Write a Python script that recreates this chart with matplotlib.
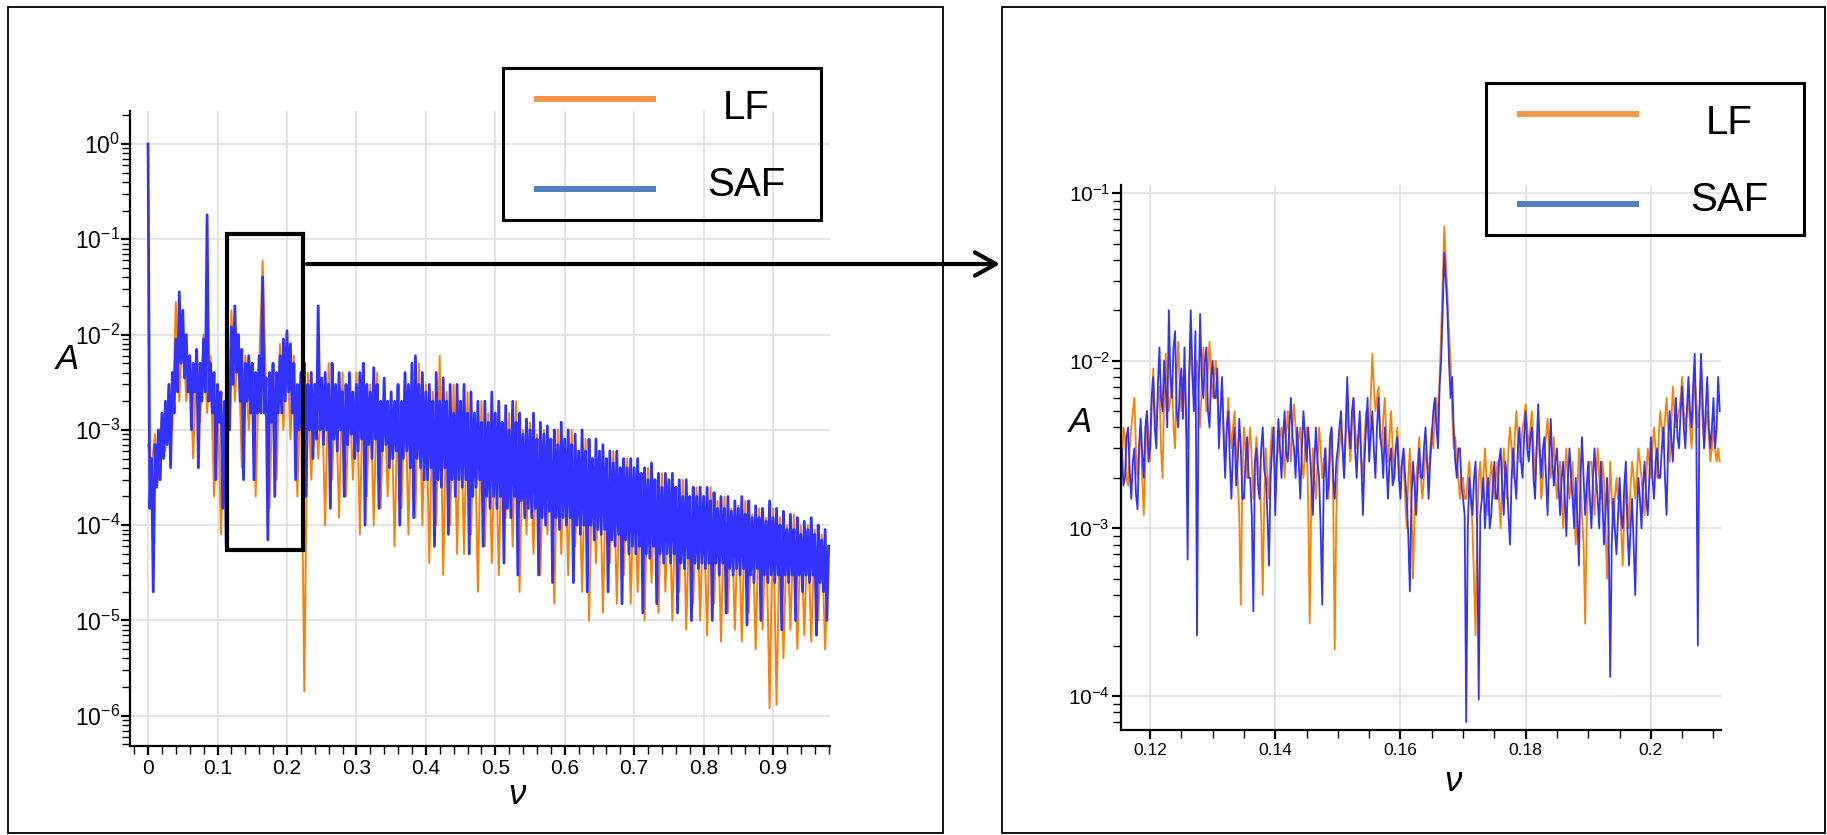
import numpy as np
import matplotlib
matplotlib.use('Agg')
import matplotlib.pyplot as plt
from matplotlib import font_manager
from matplotlib.patches import Rectangle, ArrowStyle
from matplotlib.lines import Line2D
from matplotlib.ticker import MultipleLocator, FuncFormatter, LogLocator, NullFormatter

# ---------------------------------------------------------------- data
# full spectrum, nu from 0 to 0.98
saf_full = [
    1.0, 1.5e-4, 5e-4, 2e-5, 7e-4, 2.5e-4, 1e-3, 3e-4, 1.5e-3, 5e-4, 2e-3, 7e-4, 3e-3, 4e-4, 4e-3, 1.5e-3, 9e-3, 2.5e-3, 2.8e-2, 5e-3,
    1.8e-2, 3.5e-3, 1e-2, 2.5e-3, 6e-3, 1e-3, 5e-3, 2.5e-3, 7e-3, 4e-4, 5e-3, 2e-3, 9e-3, 2.5e-3, 0.18, 2e-3, 5e-3, 1.5e-3, 4e-3, 3e-4,
    3e-3, 1.2e-3, 2.5e-3, 1.5e-4, 2e-3, 6e-5, 1.5e-3, 1e-3, 1.2e-2, 3e-3, 2e-2, 4e-3, 1e-2, 2e-3, 7e-3, 3e-4, 5e-3, 2e-3, 6e-3, 1.5e-3,
    5e-3, 3e-4, 4e-3, 1.5e-3, 6e-3, 1.5e-3, 4e-2, 1.5e-3, 3.5e-3, 7e-5, 4e-3, 1.2e-3, 5e-3, 2e-4, 4e-3, 1.5e-3, 6e-3, 1.5e-3, 9e-3, 2e-3,
    1.1e-2, 2.5e-3, 8e-3, 1.5e-3, 5e-3, 3e-4, 3e-3, 1e-3, 4e-3, 8e-4, 5e-3, 2e-4, 3e-3, 1e-3, 4e-3, 5e-4, 3e-3, 8e-4, 2e-2, 1e-3,
    3.5e-3, 7e-4, 4e-3, 1e-3, 3e-3, 1.5e-4, 5e-3, 8e-4, 3e-3, 6e-4, 4e-3, 1e-3, 2.5e-3, 2e-4, 3e-3, 7e-4, 4e-3, 9e-4, 2.5e-3, 5e-4,
    3e-3, 6e-4, 4e-3, 8e-4, 5e-3, 1e-4, 3e-3, 7e-4, 2.5e-3, 5e-4, 4.5e-3, 8e-4, 3e-3, 1.5e-4, 2e-3, 6e-4, 3.5e-3, 7e-4, 2e-3, 4e-4,
    2.5e-3, 5e-4, 2e-3, 6e-4, 3e-3, 1e-4, 2e-3, 5e-4, 4e-3, 6e-4, 3e-3, 4e-4, 5e-3, 1.2e-4, 6e-3, 5e-4, 3e-3, 4e-4, 4e-3, 3e-4,
    2.5e-3, 3e-4, 3e-3, 4e-4, 2e-3, 6e-5, 4e-3, 3e-4, 2e-3, 2.5e-4, 3.5e-3, 4e-4, 2e-3, 8e-5, 3e-3, 3e-4, 1.5e-3, 2e-4, 3e-3, 3e-4,
    2e-3, 2.5e-4, 3e-3, 3e-4, 1.5e-3, 5e-5, 2.5e-3, 2e-4, 1.5e-3, 2.5e-4, 2e-3, 3e-4, 1.2e-3, 6e-5, 2e-3, 2e-4, 1.2e-3, 1.5e-4, 2.5e-3, 2e-4,
    1.5e-3, 1.5e-4, 2e-3, 2e-4, 1.2e-3, 4e-5, 1.8e-3, 1.5e-4, 1e-3, 1.2e-4, 2e-3, 2e-4, 1.2e-3, 3e-5, 1.5e-3, 1.8e-4, 9e-4, 1.2e-4, 1.3e-3, 1.5e-4,
    1e-3, 1.2e-4, 1.5e-3, 1.5e-4, 8e-4, 3e-5, 1.2e-3, 1.2e-4, 9e-4, 1e-4, 1.1e-3, 1.4e-4, 8e-4, 2.5e-5, 1e-3, 1.2e-4, 7e-4, 9e-5, 1.2e-3, 1.2e-4,
    8e-4, 1e-4, 1e-3, 1.2e-4, 7e-4, 2.5e-5, 9e-4, 1e-4, 6e-4, 8e-5, 1e-3, 1e-4, 6e-4, 2e-5, 8e-4, 1e-4, 5e-4, 7e-5, 8e-4, 9e-5,
    6e-4, 8e-5, 7e-4, 9e-5, 5e-4, 2e-5, 6e-4, 7e-5, 4.5e-4, 6e-5, 6e-4, 8e-5, 4e-4, 1.5e-5, 5e-4, 7e-5, 4e-4, 5e-5, 5e-4, 6e-5,
    4e-4, 5e-5, 5e-4, 6e-5, 3.5e-4, 1.2e-5, 4e-4, 5e-5, 3e-4, 4.5e-5, 4.5e-4, 6e-5, 3e-4, 1.5e-5, 3.5e-4, 5e-5, 2.5e-4, 4e-5, 3.5e-4, 5e-5,
    3e-4, 4e-5, 3.5e-4, 5e-5, 2.5e-4, 1.2e-5, 3e-4, 4e-5, 2e-4, 3.5e-5, 3e-4, 4.5e-5, 2e-4, 1e-5, 2.5e-4, 4e-5, 2e-4, 3.5e-5, 2.5e-4, 4e-5,
    2e-4, 3.5e-5, 2.5e-4, 4e-5, 1.8e-4, 1e-5, 2.2e-4, 4e-5, 1.5e-4, 3e-5, 2e-4, 4e-5, 1.5e-4, 1.2e-5, 2e-4, 3.5e-5, 1.4e-4, 3e-5, 1.8e-4, 3.5e-5,
    1.5e-4, 3e-5, 2e-4, 3.5e-5, 1.3e-4, 9e-6, 1.8e-4, 3e-5, 1.2e-4, 2.5e-5, 1.6e-4, 3.5e-5, 1.2e-4, 1e-5, 1.5e-4, 3e-5, 1.1e-4, 2.5e-5, 1.8e-4, 3e-5,
    1.2e-4, 2.5e-5, 1.5e-4, 3e-5, 1e-4, 8e-6, 1.4e-4, 3e-5, 9e-5, 2.5e-5, 1.3e-4, 3e-5, 9e-5, 1e-5, 1.2e-4, 3e-5, 8e-5, 2e-5, 1.1e-4, 3e-5,
    9e-5, 2.5e-5, 1.2e-4, 3e-5, 8e-5, 7e-6, 1e-4, 2.5e-5, 7e-5, 2e-5, 9e-5, 1e-5, 6e-5,
]
lf_full = [
    7e-4, 4e-4, 9e-4, 3e-4, 1.5e-3, 6e-4, 3e-3, 1e-3, 2.2e-2, 2e-3,
    1.5e-2, 2e-3, 6e-3, 5e-4, 7e-3, 1.2e-3, 1e-2, 1.5e-3, 6e-3, 2e-4,
    3e-3, 8e-5, 1.5e-3, 6e-4, 1.8e-2, 2e-3, 1e-2, 4e-4, 6e-3, 1e-3,
    5e-3, 2e-4, 5e-3, 6e-2, 2.5e-3, 1.5e-4, 5e-3, 3e-4, 8e-3, 1e-3,
    1e-2, 8e-4, 6e-3, 2e-4, 4e-3, 1.8e-6, 4e-3, 3e-4, 3e-3, 5e-4,
    3e-3, 1e-4, 5e-3, 3e-4, 3e-3, 1.2e-4, 4e-3, 2e-4, 2.5e-3, 3e-4,
    4e-3, 8e-5, 5e-3, 2e-4, 3e-3, 1e-4, 4e-3, 1.5e-4, 3e-3, 2e-4,
    2.5e-3, 6e-5, 3e-3, 1.5e-4, 3.5e-3, 8e-5, 4e-3, 1.2e-4, 5e-3, 1e-4,
    3e-3, 4e-5, 2.5e-3, 1e-4, 6e-3, 3e-5, 2.5e-3, 1e-4, 3e-3, 5e-5,
    2e-3, 5e-5, 2.5e-3, 8e-5, 1.5e-3, 2e-5, 2e-3, 6e-5, 1.5e-3, 4e-5,
    1.5e-3, 3e-5, 1.2e-3, 1.2e-4, 1.5e-3, 6e-5, 2e-3, 2e-5, 1e-3, 8e-5,
    1.2e-3, 5e-5, 9e-4, 3e-5, 1e-3, 8e-5, 8e-4, 1.5e-5, 1e-3, 5e-5,
    8e-4, 3e-5, 1e-3, 6e-5, 6e-4, 2e-5, 8e-4, 1e-5, 5e-4, 4e-5,
    6e-4, 1.2e-5, 5e-4, 4e-5, 6e-4, 1.5e-5, 4e-4, 3e-5, 5e-4, 1.5e-5,
    4e-4, 2e-5, 3.5e-4, 1e-5, 4e-4, 2.5e-5, 3e-4, 1.2e-5, 3.5e-4, 2e-5,
    3e-4, 1e-5, 2.5e-4, 2e-5, 3e-4, 8e-6, 2e-4, 1.5e-5, 2.5e-4, 1e-5,
    2e-4, 7e-6, 2.5e-4, 1.5e-5, 1.8e-4, 6e-6, 2e-4, 1.2e-5, 1.5e-4, 8e-6,
    1.6e-4, 6e-6, 1.8e-4, 1.2e-5, 1.3e-4, 5e-6, 1.5e-4, 8e-6, 1.2e-4, 1.2e-6,
    1.5e-4, 1.3e-6, 1.2e-4, 4e-6, 1e-4, 8e-6, 1.3e-4, 5e-6, 1e-4, 7e-6,
    1e-4, 6e-6, 9e-5, 1e-5, 8e-5, 5e-6, 6e-5,
]
nu_full_range = (0.0, 0.98)

# zoom window, nu from 0.1155 to 0.211
saf_zoom = [
    3e-3, 1.8e-3, 2e-3, 3.5e-3, 4e-3, 2.2e-3, 1.5e-3, 2.5e-3, 3e-3, 1.6e-3, 1.3e-3, 3e-3, 4.5e-3, 2.8e-3, 2e-3, 4e-3, 5e-3, 2.5e-3, 3e-3, 6e-3,
    8e-3, 4e-3, 3e-3, 7e-3, 1.2e-2, 6e-3, 5e-3, 1e-2, 7e-3, 4e-3, 2e-2, 8e-3, 6e-3, 1.2e-2, 1.5e-2, 5e-3, 4e-3, 7e-3, 9e-3, 4.5e-3,
    1.2e-2, 5e-3, 6.5e-4, 8e-3, 2e-2, 9e-3, 5e-3, 1.5e-2, 2.3e-4, 6e-3, 1.9e-2, 8e-3, 6e-3, 1e-2, 1.2e-2, 5e-3, 4e-3, 8e-3, 1e-2, 6e-3,
    6e-3, 9e-3, 3e-3, 5e-3, 8e-3, 3.5e-3, 2e-3, 4e-3, 5e-3, 2.5e-3, 1.5e-3, 3e-3, 4e-3, 1.8e-3, 2.5e-3, 4.5e-3, 3e-3, 1.5e-3, 1.5e-3, 2.5e-3,
    3.5e-3, 2e-3, 2e-3, 1.2e-3, 3.2e-4, 2.5e-3, 3e-3, 1.8e-3, 1.5e-3, 3e-3, 4e-3, 2.2e-3, 2e-3, 1.2e-3, 6e-4, 2e-3, 3e-3, 4e-3, 1.2e-3, 2.5e-3,
    4.5e-3, 3e-3, 2e-3, 3.5e-3, 5e-3, 2.8e-3, 2.5e-3, 4e-3, 6e-3, 3.5e-3, 3e-3, 2e-3, 4e-3, 2.5e-3, 1.5e-3, 3e-3, 5e-3, 3.5e-3, 2.5e-3, 4e-3,
    3e-3, 2e-3, 1.2e-3, 2.5e-3, 4e-3, 2.5e-3, 2e-3, 1e-3, 3.5e-4, 2e-3, 3e-3, 1.5e-3, 1.8e-3, 3.5e-3, 4e-3, 2e-3, 1.5e-3, 2.5e-3, 3e-3, 4e-3,
    5e-3, 3e-3, 2e-3, 4e-3, 8e-3, 4e-3, 3e-3, 5e-3, 6e-3, 3e-3, 2e-3, 3.5e-3, 5e-3, 2.5e-3, 1.2e-3, 2.5e-3, 4e-3, 6e-3, 2.5e-3, 3.5e-3,
    5e-3, 3e-3, 2e-3, 4e-3, 6e-3, 3.5e-3, 3e-3, 2e-3, 4e-3, 2.5e-3, 1.5e-3, 2.5e-3, 3e-3, 1.8e-3, 2e-3, 3e-3, 3.5e-3, 2e-3, 1.5e-3, 2.5e-3,
    3e-3, 2e-3, 1.5e-3, 9e-4, 4.2e-4, 1.5e-3, 2.5e-3, 1.8e-3, 1.2e-3, 2e-3, 3e-3, 2e-3, 2e-3, 3e-3, 4e-3, 2.5e-3, 1.5e-3, 2.5e-3, 3.5e-3, 5e-3,
    6e-3, 4e-3, 3e-3, 7e-3, 1e-2, 2e-2, 4.4e-2, 3e-2, 2e-2, 1e-2, 6e-3, 8e-3, 4e-3, 2.5e-3, 2e-3, 3e-3, 3e-3, 1.8e-3, 1.5e-3, 1.2e-3,
    7e-5, 1e-3, 2e-3, 1.5e-3, 1.2e-3, 2e-3, 2.5e-3, 1e-3, 9.5e-5, 1.2e-3, 1.5e-3, 2e-3, 1e-3, 1.5e-3, 2e-3, 1e-3, 1.2e-3, 1.8e-3, 2.5e-3, 1.5e-3,
    1.5e-3, 2.5e-3, 3e-3, 1.8e-3, 1.2e-3, 2.5e-3, 2e-3, 1.2e-3, 8e-4, 2e-3, 3e-3, 2e-3, 1.5e-3, 3e-3, 4e-3, 2.5e-3, 2e-3, 3.5e-3, 5e-3, 3e-3,
    2.5e-3, 3.5e-3, 4e-3, 2e-3, 1.5e-3, 3e-3, 5.5e-3, 3e-3, 2e-3, 3e-3, 3.5e-3, 2e-3, 1.2e-3, 2.5e-3, 4.5e-3, 2.5e-3, 1.8e-3, 2.5e-3, 3e-3, 1.8e-3,
    1.2e-3, 2e-3, 2.5e-3, 1.5e-3, 9e-4, 2e-3, 3e-3, 2e-3, 1.5e-3, 1e-3, 2e-3, 1.2e-3, 6e-4, 2e-3, 3.5e-3, 2e-3, 1.2e-3, 1.8e-3, 2.5e-3, 1.5e-3,
    1e-3, 2e-3, 3e-3, 2e-3, 1.5e-3, 1e-3, 2.5e-3, 1.5e-3, 8e-4, 1.2e-3, 2e-3, 1e-3, 1.3e-4, 8e-4, 1.5e-3, 1e-3, 7e-4, 1.2e-3, 2e-3, 1.2e-3,
    1e-3, 1.8e-3, 2.5e-3, 1e-3, 6e-4, 1e-3, 1.5e-3, 8e-4, 4e-4, 1.2e-3, 2e-3, 1.5e-3, 1e-3, 1.8e-3, 2.5e-3, 1.5e-3, 1.2e-3, 2e-3, 3.5e-3, 2e-3,
    1.5e-3, 2.5e-3, 3e-3, 2e-3, 2e-3, 3e-3, 4e-3, 2e-3, 1.2e-3, 3e-3, 5e-3, 3.5e-3, 2.5e-3, 4e-3, 6e-3, 3.5e-3, 3e-3, 5e-3, 7e-3, 4e-3,
    3e-3, 5e-3, 8e-3, 5e-3, 4e-3, 7e-3, 1.1e-2, 4e-3, 2e-4, 5e-3, 1.1e-2, 6e-3, 3e-3, 5e-3, 8e-3, 4e-3, 3e-3, 4e-3, 6e-3, 3e-3,
    4e-3, 8e-3, 5e-3,
]
lf_zoom = [
    2.5e-3, 4e-3, 3.5e-3, 2e-3, 1.8e-3, 3e-3, 4e-3, 5e-3, 6e-3, 3e-3, 2e-3, 3e-3, 4e-3, 2e-3, 1.2e-3, 2.5e-3, 5e-3, 3.5e-3, 2.5e-3, 5e-3,
    9e-3, 5e-3, 4e-3, 6e-3, 7e-3, 3e-3, 2e-3, 6e-3, 1.1e-2, 7e-3, 5e-3, 6e-3, 8e-3, 4e-3, 3e-3, 8e-3, 1.3e-2, 7e-3, 5e-3, 8e-3,
    8e-3, 4e-3, 3e-3, 8e-3, 1.4e-2, 8e-3, 6e-3, 7e-3, 1e-2, 6e-3, 4e-3, 7e-3, 1.2e-2, 8e-3, 5e-3, 9e-3, 1.3e-2, 8e-3, 6e-3, 8e-3,
    1e-2, 6e-3, 4e-3, 5e-3, 7e-3, 4e-3, 2.5e-3, 4e-3, 6e-3, 4e-3, 3e-3, 4e-3, 5e-3, 3e-3, 2e-3, 1.2e-3, 3.5e-4, 2e-3, 4e-3, 3e-3,
    2e-3, 3e-3, 4e-3, 2.5e-3, 1.5e-3, 2.5e-3, 3.5e-3, 2.5e-3, 2e-3, 1.2e-3, 4e-4, 1.5e-3, 3e-3, 2e-3, 1.5e-3, 3e-3, 4e-3, 3e-3, 2e-3, 2.5e-3,
    3e-3, 3.5e-3, 4e-3, 3e-3, 2e-3, 3.5e-3, 5e-3, 3.5e-3, 2.5e-3, 4e-3, 5.5e-3, 4e-3, 3e-3, 3.5e-3, 4e-3, 2.5e-3, 2e-3, 3e-3, 4e-3, 1.5e-3,
    2.7e-4, 1.5e-3, 3e-3, 2e-3, 1.5e-3, 2.5e-3, 4e-3, 3e-3, 2e-3, 2.5e-3, 3e-3, 2e-3, 1.5e-3, 2.5e-3, 4e-3, 1.5e-3, 1.9e-4, 1.2e-3, 2.5e-3, 3e-3,
    4e-3, 3e-3, 2e-3, 3.5e-3, 5e-3, 3.5e-3, 2.5e-3, 4e-3, 6e-3, 4e-3, 3e-3, 3.5e-3, 4e-3, 2.5e-3, 2e-3, 3.5e-3, 5e-3, 4e-3, 3e-3, 6e-3,
    1.1e-2, 7e-3, 5e-3, 6e-3, 7e-3, 4e-3, 3e-3, 4.5e-3, 6e-3, 3.5e-3, 2.5e-3, 3.5e-3, 5e-3, 3e-3, 2e-3, 3e-3, 4e-3, 2.5e-3, 2e-3, 2.5e-3,
    2.5e-3, 1.5e-3, 1e-3, 2e-3, 3e-3, 1.5e-3, 5e-4, 1.2e-3, 2e-3, 2.5e-3, 3.5e-3, 2e-3, 1.5e-3, 2e-3, 3e-3, 2.5e-3, 2e-3, 3e-3, 4e-3, 3e-3,
    5e-3, 6e-3, 4e-3, 8e-3, 1.5e-2, 3e-2, 6.3e-2, 4e-2, 2.5e-2, 1.5e-2, 1e-2, 5e-3, 3e-3, 3.5e-3, 2.5e-3, 2e-3, 1.5e-3, 2e-3, 2e-3, 1.5e-3,
    1.5e-3, 2e-3, 2.5e-3, 1.5e-3, 1e-3, 5e-4, 2.3e-4, 1e-3, 2e-3, 2.5e-3, 1.5e-3, 2e-3, 3e-3, 2e-3, 1.2e-3, 1.8e-3, 2.5e-3, 2e-3, 1.5e-3, 2e-3,
    2.5e-3, 1.5e-3, 1e-3, 2e-3, 3e-3, 2e-3, 1.5e-3, 3e-3, 4e-3, 3e-3, 2e-3, 3.5e-3, 5e-3, 3.5e-3, 2.5e-3, 3e-3, 4e-3, 4.5e-3, 5.5e-3, 4e-3,
    3e-3, 4e-3, 5e-3, 3e-3, 2e-3, 3e-3, 4e-3, 2.5e-3, 1.5e-3, 2e-3, 3e-3, 3.5e-3, 4.5e-3, 3e-3, 2e-3, 2.5e-3, 3.5e-3, 2e-3, 1.5e-3, 2e-3,
    2.5e-3, 1.5e-3, 1e-3, 2e-3, 3e-3, 2e-3, 1.5e-3, 2e-3, 2.5e-3, 1.2e-3, 8e-4, 1.5e-3, 3e-3, 2e-3, 1.2e-3, 8e-4, 2.7e-4, 1e-3, 2e-3, 2.5e-3,
    2.5e-3, 1.8e-3, 1.2e-3, 2e-3, 3e-3, 2e-3, 1.5e-3, 2.5e-3, 2e-3, 1e-3, 5e-4, 1.2e-3, 2.5e-3, 1.5e-3, 1e-3, 1.5e-3, 2e-3, 1.5e-3, 1.5e-3, 1e-3,
    6e-4, 1.2e-3, 2e-3, 1.5e-3, 1e-3, 1.8e-3, 2.5e-3, 2e-3, 1.5e-3, 2e-3, 3e-3, 2.5e-3, 2e-3, 1.5e-3, 1.2e-3, 2e-3, 3e-3, 2.5e-3, 2e-3, 3e-3,
    4e-3, 3e-3, 2e-3, 3.5e-3, 5e-3, 4e-3, 3e-3, 4.5e-3, 6e-3, 4e-3, 2.5e-3, 4e-3, 7e-3, 5e-3, 4e-3, 4.5e-3, 5e-3, 6e-3, 8e-3, 5e-3,
    4e-3, 5e-3, 6e-3, 4e-3, 3e-3, 5e-3, 8e-3, 6e-3, 4e-3, 5e-3, 7e-3, 4.5e-3, 3e-3, 4e-3, 5e-3, 3.5e-3, 2.5e-3, 3e-3, 4e-3, 3e-3,
    2.5e-3, 3e-3, 2.5e-3,
]
nu_zoom_range = (0.1155, 0.2110)

# zoom box drawn on the full spectrum (nu0, nu1, A0, A1)
zoom_box = (0.1137, 0.223, 5.5e-5, 0.114)
arrow_level = 0.055

series_names = ['LF', 'SAF']

# ---------------------------------------------------------------- styles
C_LF = '#ff8000'
C_SAF = '#3232ff'
LEG_LF = '#f79646'
LEG_SAF = '#4f81bd'

names = {f.name for f in font_manager.fontManager.ttflist}
tick_font = 'Liberation Sans' if 'Liberation Sans' in names else 'DejaVu Sans'
leg_font = 'Liberation Sans Narrow' if 'Liberation Sans Narrow' in names else tick_font

plt.rcParams['font.family'] = [tick_font, 'DejaVu Sans']
plt.rcParams['mathtext.default'] = 'regular'

W, H = 1827, 835
fig = plt.figure(figsize=(W / 100, H / 100), dpi=100)


def px_rect(x0, y0, x1, y1):
    # pixel box (top-left origin) -> figure fraction [l, b, w, h]
    return [x0 / W, 1 - y1 / H, (x1 - x0) / W, (y1 - y0) / H]


def style_axes(ax, xmajor, xminor, xsize, ysize, xpad, ypad):
    for s in ('top', 'right'):
        ax.spines[s].set_visible(False)
    for s in ('left', 'bottom'):
        ax.spines[s].set_linewidth(1.6)
    ax.set_yscale('log')
    ax.xaxis.set_major_locator(MultipleLocator(xmajor))
    ax.xaxis.set_minor_locator(MultipleLocator(xminor))
    ax.xaxis.set_major_formatter(FuncFormatter(lambda v, p: '%g' % round(v, 4)))
    ax.yaxis.set_major_locator(LogLocator(base=10, numticks=20))
    ax.yaxis.set_minor_locator(LogLocator(base=10, subs=np.arange(2, 10), numticks=20))
    ax.yaxis.set_minor_formatter(NullFormatter())
    ax.tick_params(axis='x', which='major', length=6.5, width=1.6, direction='out',
                   labelsize=xsize, pad=xpad)
    ax.tick_params(axis='x', which='minor', length=5.5, width=1.0, direction='out')
    ax.tick_params(axis='y', which='major', length=6.5, width=1.6, direction='out',
                   labelsize=ysize, pad=ypad)
    ax.tick_params(axis='y', which='minor', length=5.5, width=1.0, direction='out')
    ax.grid(True, which='major', color='#dcdcdc', linewidth=1.1)
    ax.set_axisbelow(True)


def axis_labels(ax, ax_x, ax_y, nu_x, nu_y):
    ax.set_ylabel('A', rotation=0, fontsize=25, fontstyle='italic', ha='center', va='center')
    ax.yaxis.set_label_coords(ax_x, ax_y)
    ax.set_xlabel('ν', fontsize=25, fontstyle='italic', ha='center', va='center')
    ax.xaxis.set_label_coords(nu_x, nu_y)


def legend_box(x0, y0):
    # legend drawn by hand: box, two thick lines, centred labels
    fig.add_artist(Rectangle((x0 / W, 1 - (y0 + 152) / H), 318 / W, 152 / H,
                             transform=fig.transFigure, fill=False, ec='black', lw=2.2))
    for name, col, dy_line, dy_text in zip(series_names, [LEG_LF, LEG_SAF], [31, 121], [40, 117]):
        fig.add_artist(Line2D([(x0 + 31) / W, (x0 + 153) / W],
                              [1 - (y0 + dy_line) / H] * 2,
                              transform=fig.transFigure, color=col, lw=4.3, solid_capstyle='butt'))
        fig.text((x0 + 243) / W, 1 - (y0 + dy_text) / H, name, fontsize=29,
                 family=[leg_font, 'DejaVu Sans'], ha='center', va='center')


# ---------------------------------------------------------------- outer frames
for x0, x1 in [(8, 943), (1002, 1825)]:
    fig.add_artist(Rectangle((x0 / W, 2 / H), (x1 - x0) / W, (H - 9) / H,
                             transform=fig.transFigure, fill=False, ec='black', lw=1.3))

# ---------------------------------------------------------------- left: full spectrum
ax1 = fig.add_axes(px_rect(130, 111, 830, 746))
nu_lf = np.linspace(*nu_full_range, len(lf_full))
nu_saf = np.linspace(*nu_full_range, len(saf_full))
ax1.plot(nu_lf, lf_full, color=C_LF, lw=1.4)
ax1.plot(nu_saf, saf_full, color=C_SAF, lw=2.0)
style_axes(ax1, 0.1, 0.02, 15, 16.5, 2.5, 0.5)
ax1.set_xlim(-0.026, 0.982)
ax1.set_ylim(10 ** -6.317, 10 ** 0.346)
axis_labels(ax1, -0.09, 0.608, 0.553, -0.077)

ax1.add_patch(Rectangle((zoom_box[0], zoom_box[2]), zoom_box[1] - zoom_box[0],
                        zoom_box[3] - zoom_box[2], fill=False, ec='black', lw=3.0,
                        clip_on=False, zorder=5))
ax1.annotate('', xy=(1000 / W, arrow_level), xycoords=('figure fraction', 'data'),
             xytext=(zoom_box[1] + 0.006, arrow_level), textcoords='data',
             annotation_clip=False,
             arrowprops=dict(arrowstyle=ArrowStyle('->', head_length=0.75, head_width=0.42),
                             mutation_scale=20, lw=3.0, color='black',
                             shrinkA=0, shrinkB=0))

# ---------------------------------------------------------------- right: zoomed spectrum
ax2 = fig.add_axes(px_rect(1121, 185, 1721, 730))
ax2.plot(np.linspace(*nu_zoom_range, len(lf_zoom)), lf_zoom, color=C_LF, lw=1.3)
ax2.plot(np.linspace(*nu_zoom_range, len(saf_zoom)), saf_zoom, color=C_SAF, lw=1.3)
style_axes(ax2, 0.02, 0.005, 12.5, 15, 3, 1.5)
ax2.set_xlim(0.11536, 0.2112)
ax2.set_ylim(10 ** -4.203, 10 ** -0.952)
axis_labels(ax2, -0.068, 0.565, 0.553, -0.095)

# ---------------------------------------------------------------- legends
legend_box(503, 68)
legend_box(1486, 83)

fig.savefig('out.png', dpi=100)
